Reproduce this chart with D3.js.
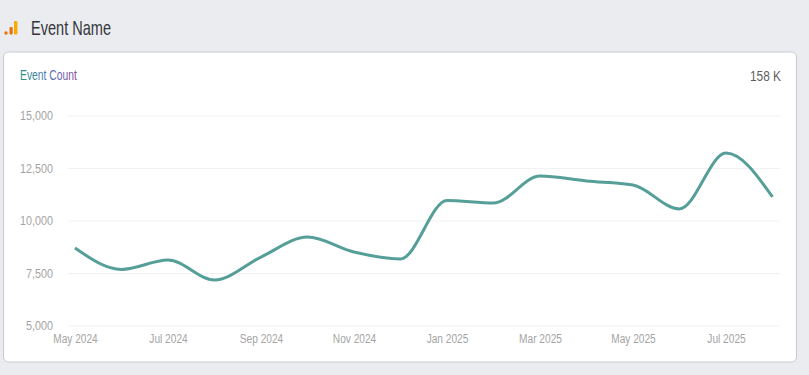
<!DOCTYPE html>
<meta charset="utf-8">
<style>
  html, body { margin: 0; padding: 0; background: #ebecf0; overflow: hidden; }
  text { font-family: "Liberation Sans", Arial, sans-serif; }
</style>

<!-- Load d3.js -->
<script src="https://d3js.org/d3.v7.min.js"></script>

<div id="my_dataviz"></div>

<script>

var months = ["May 2024", "Jun 2024", "Jul 2024", "Aug 2024", "Sep 2024", "Oct 2024", "Nov 2024", "Dec 2024",
              "Jan 2025", "Feb 2025", "Mar 2025", "Apr 2025", "May 2025", "Jun 2025", "Jul 2025", "Aug 2025"];
var eventCount = [8690, 7670, 8120, 7170, 8260, 9210, 8500, 8170,
                  10950, 10830, 12120, 11880, 11690, 10550, 13210, 11120];
var xTicks = ["May 2024", "Jul 2024", "Sep 2024", "Nov 2024", "Jan 2025", "Mar 2025", "May 2025", "Jul 2025"];
var yTicks = [5000, 7500, 10000, 12500, 15000];

var svg = d3.select("#my_dataviz")
  .append("svg")
    .attr("width", 809)
    .attr("height", 375)
    .style("display", "block");

// squeeze tick labels, the original font is narrower than what we have here
function squeeze(sel, ratio) {
  sel.each(function () {
    d3.select(this)
      .attr("textLength", this.getComputedTextLength() * ratio)
      .attr("lengthAdjust", "spacingAndGlyphs");
  });
}

// little orange bars icon next to the title
var icon = svg.append("g");
icon.append("circle").attr("cx", 6).attr("cy", 33).attr("r", 1.7).style("fill", "#e8710a");
icon.append("rect").attr("x", 9.5).attr("y", 27).attr("width", 3.2).attr("height", 7.5).attr("rx", 1).style("fill", "#e8710a");
icon.append("rect").attr("x", 14).attr("y", 21).attr("width", 3.4).attr("height", 13.5).attr("rx", 1).style("fill", "#f9ab00");

svg.append("text")
  .text("Event Name")
  .attr("x", 31)
  .attr("y", 35)
  .attr("textLength", 80)
  .attr("lengthAdjust", "spacingAndGlyphs")
  .style("font-size", "21px")
  .style("fill", "#33363b");

// card
svg.append("rect")
  .attr("x", 3.5)
  .attr("y", 52)
  .attr("width", 793)
  .attr("height", 310)
  .attr("rx", 5)
  .style("fill", "#fff")
  .style("stroke", "#c6cad0");

// gradient for the metric name
var grad = svg.append("defs").append("linearGradient")
  .attr("id", "metricGrad")
  .attr("gradientUnits", "userSpaceOnUse")
  .attr("x1", 20).attr("x2", 77).attr("y1", 0).attr("y2", 0);
grad.append("stop").attr("offset", "0%").attr("stop-color", "#2f8f7f");
grad.append("stop").attr("offset", "45%").attr("stop-color", "#4a78b8");
grad.append("stop").attr("offset", "100%").attr("stop-color", "#8a4a9a");

svg.append("text")
  .text("Event Count")
  .attr("x", 20)
  .attr("y", 80)
  .attr("textLength", 57)
  .attr("lengthAdjust", "spacingAndGlyphs")
  .style("font-size", "14px")
  .style("fill", "url(#metricGrad)");

svg.append("text")
  .text("158 K")
  .attr("x", 781)
  .attr("y", 81)
  .attr("text-anchor", "end")
  .attr("textLength", 31)
  .attr("lengthAdjust", "spacingAndGlyphs")
  .style("font-size", "15px")
  .style("fill", "#606060");

// scales
var x = d3.scalePoint().domain(months).range([75, 772.5]);
var y = d3.scaleLinear().domain([5000, 15000]).range([325.5, 115.5]);

// Y axis with the grid lines
var yAxis = svg.append("g")
  .attr("transform", "translate(68,0)")
  .call(d3.axisLeft(y).tickValues(yTicks).tickSize(-712).tickPadding(15).tickFormat(d3.format(",")));
yAxis.select(".domain").remove();
yAxis.selectAll(".tick line").style("stroke", "#f1f1f3");
yAxis.selectAll(".tick text")
  .style("font-size", "12.5px")
  .style("fill", "#a4a4a4")
  .style("font-family", "'Liberation Sans', Arial, sans-serif");
squeeze(yAxis.selectAll(".tick text"), 0.86);

// X axis
var xAxis = svg.append("g")
  .attr("transform", "translate(0,325.5)")
  .call(d3.axisBottom(x).tickValues(xTicks).tickSize(0).tickPadding(9));
xAxis.select(".domain").remove();
xAxis.selectAll(".tick text")
  .style("font-size", "12.5px")
  .style("fill", "#a4a4a4")
  .style("font-family", "'Liberation Sans', Arial, sans-serif");
squeeze(xAxis.selectAll(".tick text"), 0.81);

// the line
var line = d3.line()
  .x(function (d, i) { return x(months[i]); })
  .y(function (d) { return y(d); })
  .curve(d3.curveMonotoneX);

svg.append("path")
  .datum(eventCount)
  .attr("d", line)
  .style("fill", "none")
  .style("stroke", "#559f98")
  .style("stroke-width", 3);

</script>
